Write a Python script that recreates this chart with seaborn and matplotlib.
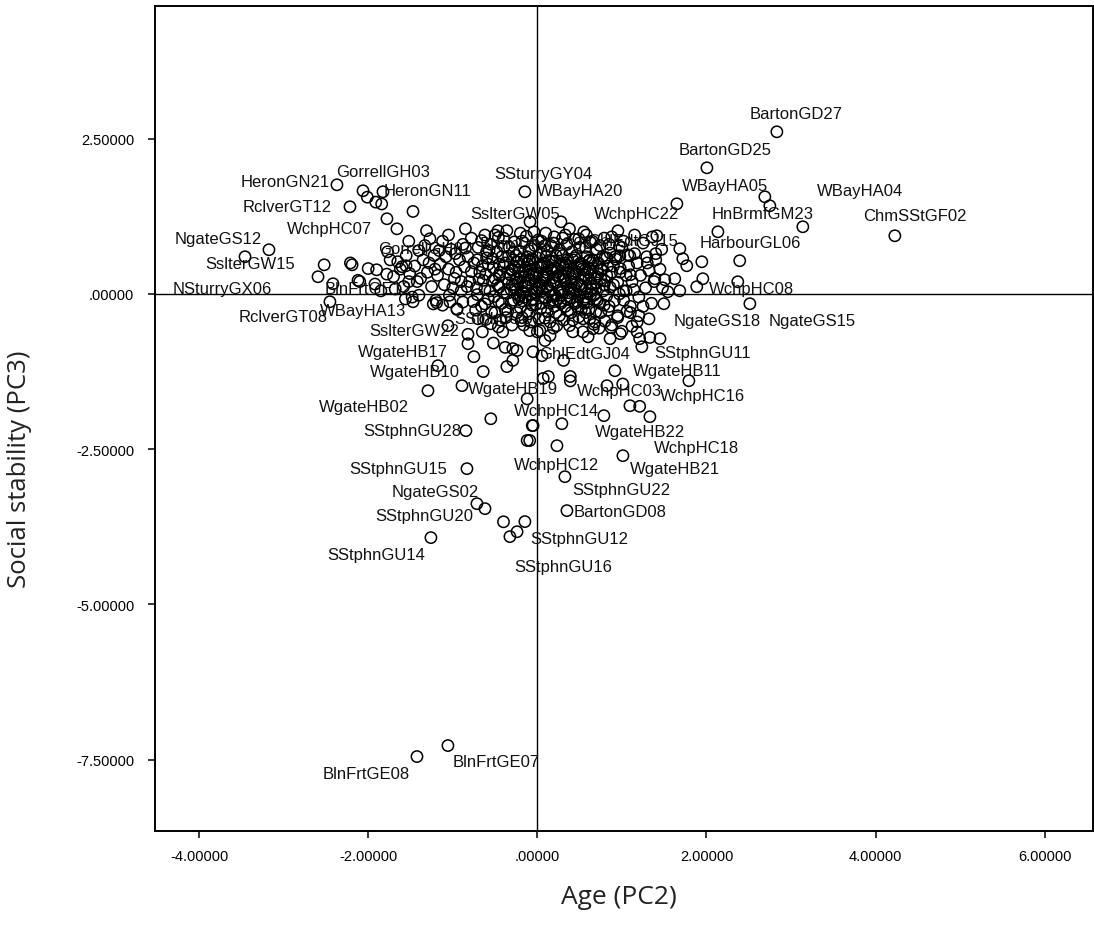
import matplotlib
matplotlib.use("Agg")
import matplotlib.pyplot as plt
import pandas as pd
import seaborn as sns

# Ward cases carrying a visible label: name, Age (PC2), Social stability (PC3)
case_names = [
    "BartonGD27", "BartonGD25", "WBayHA05", "HnBrmfGM23", "WBayHA04", "ChmSStGF02",
    "HarbourGL06", "WchpHC22", "WBayHA20", "SSturryGY04", "SslterGW05", "GhlEdtGJ15",
    "BrhmDnsGC03", "GorrellGH07", "HeronGN21", "GorrellGH03", "HeronGN11", "RclverGT12",
    "WchpHC07", "NgateGS12", "SslterGW15", "NSturryGX06", "BlnFrtGE12", "RclverGT08",
    "WBayHA13", "SslterGW22", "WgateHB17", "WgateHB10", "WgateHB02", "WgateHB19",
    "SStphnGU28", "SStphnGU15", "NgateGS02", "SStphnGU20", "SStphnGU14", "SStphnGU12",
    "SStphnGU16", "BartonGD08", "SStphnGU22", "WgateHB21", "WchpHC18", "WgateHB22",
    "WchpHC12", "WchpHC14", "WchpHC03", "WchpHC16", "WgateHB11", "SStphnGU11",
    "GhlEdtGJ04", "NgateGS18", "NgateGS15", "WchpHC08", "SStphnGU24", "BlnFrtGE08",
    "BlnFrtGE07",
]
case_pc2 = [
    2.832, 2.005, 1.650, 2.749, 3.139, 4.227,
    2.135, 0.953, 0.279, -0.147, -0.466, 0.823,
    -0.099, -1.553, -2.369, -2.061, -1.825, -2.215,
    -1.778, -3.456, -3.173, -2.593, -2.416, -2.452,
    -1.470, -1.057, -0.820, -1.175, -1.293, -0.891,
    -0.844, -0.832, -0.714, -0.619, -1.258, -0.147,
    -0.324, 0.350, 0.326, 1.012, 1.331, 1.095,
    0.232, 0.787, 0.823, 1.792, 0.917, 1.236,
    0.054, 1.496, 2.513, 1.957, -1.033, -1.423,
    -1.057,
]
case_pc3 = [
    2.613, 2.033, 1.453, 1.421, 1.083, 0.938,
    1.002, 1.018, 1.163, 1.647, 1.018, 0.584,
    0.535, 0.455, 1.759, 1.663, 1.647, 1.405,
    1.212, 0.600, 0.713, 0.278, 0.165, -0.125,
    -0.125, -0.511, -0.801, -1.155, -1.558, -1.477,
    -2.202, -2.814, -3.378, -3.458, -3.925, -3.667,
    -3.909, -3.490, -2.943, -2.605, -1.977, -1.800,
    -2.444, -1.960, -1.477, -1.397, -1.236, -0.850,
    -0.994, -0.157, -0.157, 0.246, -0.125, -7.452,
    -7.275,
]

# Remaining (unlabelled) ward cases, outer part of the cloud
other_pc2 = [
    # upper right
    2.690, 2.393, 2.370, 1.945, 1.685, 1.720, 1.767, 1.885, 1.684, 1.543,
    1.389, 1.507, 1.625, 1.413, 0.975, 1.093, 1.294, -0.087,
    # far left
    -2.01, -1.91, -2.52, -2.21, -2.19, -2.00, -1.90, -1.77, -1.84, -1.66,
    -1.74, -1.70, -1.62, -1.58, -1.85, -2.10, -1.55, -1.52, -2.12, -1.92,
    -1.78, -1.60, -1.51, -1.68, -1.56, -1.47,
    # mid left
    -1.31, -1.27, -0.85, -1.40, -1.35, -1.22, -1.15, -1.30, -1.18, -1.05,
    -1.42, -1.25, -1.10, -0.98, -0.92, -1.02, -0.88, -1.48, -1.20, -1.04,
    -0.90, -0.95, -1.12, -1.19, -1.23,
    # core, left half
    -0.78, -0.70, -0.62, -0.55, -0.48, -0.40, -0.33, -0.25, -0.18, -0.10, -0.05,
    -0.75, -0.68, -0.60, -0.52, -0.45, -0.38, -0.30, -0.22, -0.15, -0.08, -0.02,
    -0.80, -0.72, -0.64, -0.56, -0.47, -0.40, -0.34, -0.26, -0.20, -0.12, -0.04,
    -0.76, -0.66, -0.58, -0.50, -0.42, -0.35, -0.28, -0.20, -0.14, -0.06,
    -0.70, -0.55, -0.44, -0.30, -0.18, -0.08,
    -0.60, -0.42, -0.28, -0.12, -0.65, -0.50, -0.35, -0.18, -0.10, -0.25, -0.45,
    # core, right half
    0.05, 0.12, 0.20, 0.28, 0.35, 0.42, 0.50, 0.58, 0.65, 0.72,
    0.03, 0.10, 0.17, 0.24, 0.31, 0.38, 0.45, 0.52, 0.60, 0.68, 0.76,
    0.02, 0.08, 0.15, 0.22, 0.29, 0.36, 0.43, 0.50, 0.57, 0.64, 0.71, 0.78,
    0.05, 0.12, 0.19, 0.26, 0.33, 0.40, 0.47, 0.54, 0.61, 0.68, 0.75,
    0.10, 0.25, 0.40, 0.55, 0.18, 0.32, 0.46, 0.62, 0.07, 0.20, 0.35, 0.48,
    0.58, 0.70, 0.30, 0.15,
    # core, extra
    -0.28, -0.16, -0.03, 0.08, 0.22, 0.37, 0.53, 0.66, 0.80,
    -0.30, -0.17, -0.05, 0.06, 0.18, 0.32, 0.44, 0.55, 0.67, 0.79,
    -0.24, -0.10, 0.02, 0.15, 0.28, 0.42, 0.57, 0.73, 0.88, 1.00,
    -0.22, 0.00, 0.12, 0.27, 0.48, 0.63, 0.75, 0.90, 1.05, 1.18,
    0.04, 0.16, 0.30, 0.44, 0.58, 0.74, 0.88, 1.02, 1.15,
    -0.50, -0.36, -0.20, -0.04, 0.10, 0.38, 0.55,
    # right wing
    0.85, 0.92, 1.00, 1.08, 1.15, 1.22, 1.30, 1.38, 1.45,
    0.82, 0.90, 0.98, 1.05, 1.12, 1.20, 1.28, 1.35,
    0.85, 0.95, 1.02, 1.10, 1.18, 1.25, 1.32, 1.40, 1.48,
    # below the core
    0.09, 0.15, 0.07, 0.13, 0.39, 0.39, 0.29, -0.05, -0.09, 0.31,
    1.21, 1.33, 1.45, 1.18, 0.98, 0.86, 0.66, 0.54, 0.60, 0.42, 0.23, 0.00,
    1.01, 1.21,
    -0.95, -0.82, -0.75, -0.65, -0.52, -0.41, -0.38, -0.29, -0.24, -0.29,
    -0.36, -0.64, -0.55, -0.12, -0.06, -0.12, -0.05, 0.03, -0.09,
    # bottom group
    -0.40, -0.24,
]
other_pc3 = [
    # upper right
    1.566, 0.536, 0.197, 0.519, 0.729, 0.568, 0.455, 0.117, 0.052, 0.036,
    0.245, 0.229, 0.245, 0.938, 0.616, 0.616, 0.600, 1.163,
    # far left
    1.56, 1.48, 0.47, 0.50, 0.47, 0.41, 0.39, 0.68, 1.45, 1.05,
    0.55, 0.28, 0.40, 0.12, 0.05, 0.20, 0.62, 0.85, 0.22, 0.16,
    0.32, 0.44, 0.33, 0.08, -0.08, 1.33,
    # mid left
    1.02, 0.89, 1.05, 0.70, 0.55, 0.62, 0.48, 0.35, 0.30, 0.40,
    0.20, 0.12, 0.15, 0.25, 0.55, 0.72, 0.80, -0.05, -0.10, -0.02,
    0.05, -0.25, -0.18, -0.14, -0.16,
    # core, left half
    0.90, 0.75, 0.95, 0.80, 0.68, 0.90, 0.75, 0.62, 0.85, 0.70, 0.55,
    0.50, 0.35, 0.58, 0.42, 0.30, 0.50, 0.38, 0.45, 0.28, 0.40, 0.20,
    0.20, 0.10, 0.22, 0.05, 0.15, 0.02, 0.18, 0.08, -0.02, 0.12, 0.02,
    -0.12, -0.20, -0.08, -0.30, -0.15, -0.28, -0.10, -0.22, -0.05, -0.18,
    -0.40, -0.48, -0.42, -0.50, -0.38, -0.45,
    0.68, 0.60, 0.55, 0.60, 0.45, 0.25, 0.35, 0.18, 0.30, 0.25, 0.48,
    # core, right half
    0.85, 0.70, 0.92, 0.65, 0.80, 0.55, 0.75, 0.60, 0.85, 0.50,
    0.45, 0.35, 0.52, 0.40, 0.28, 0.45, 0.32, 0.48, 0.35, 0.25, 0.40,
    0.10, 0.22, 0.05, 0.18, -0.02, 0.12, 0.02, 0.15, -0.05, 0.08, -0.10, 0.05,
    -0.15, -0.28, -0.10, -0.35, -0.20, -0.30, -0.12, -0.40, -0.25, -0.45, -0.30,
    0.60, 0.30, 0.20, 0.25, 0.38, 0.50, 0.62, 0.55, 0.28, -0.20, -0.08, -0.22,
    0.10, 0.18, 0.08, 0.15,
    # core, extra
    0.68, 0.52, 0.78, 0.50, 0.62, 0.35, 0.40, 0.42, 0.58,
    0.15, 0.02, -0.08, 0.05, -0.02, 0.22, 0.10, -0.15, -0.02, -0.18,
    -0.30, -0.32, -0.40, -0.45, -0.15, -0.42, -0.30, -0.55, -0.50, -0.60,
    0.35, 0.33, 0.45, 0.48, 0.42, 0.30, 0.25, 0.45, 0.30, 0.50,
    0.65, 0.78, 0.90, 0.88, 0.95, 0.78, 0.92, 0.85, 0.95,
    0.95, 1.02, 0.98, 1.00, 0.98, 1.05, 1.00,
    # right wing
    0.80, 0.60, 0.75, 0.45, 0.65, 0.30, 0.50, 0.20, 0.40,
    0.30, 0.15, 0.35, 0.05, 0.20, -0.05, 0.10, -0.15,
    -0.20, -0.35, -0.10, -0.30, -0.45, -0.20, -0.40, 0.65, 0.10,
    # below the core
    -0.75, -0.67, -1.36, -1.33, -1.33, -1.40, -2.09, -2.12, -2.36, -1.07,
    -0.72, -0.70, -0.72, -0.61, -0.64, -0.72, -0.56, -0.61, -0.69, -0.61, -0.51, -0.61,
    -1.45, -1.81,
    -0.24, -0.65, -1.01, -0.61, -0.79, -0.61, -0.86, -0.88, -0.91, -1.07,
    -1.17, -1.25, -2.01, -1.69, -2.12, -2.36, -0.93, -0.59, -0.59,
    # bottom group
    -3.67, -3.83,
]

# Unlabelled cases packed into the dense centre of the cloud
dense_pc2 = [
    -0.66, -0.46, -0.27, -0.13, 0.01, 0.19, 0.33, 0.49, 0.63, 0.79,
    -0.85, -0.57, -0.39, -0.21, -0.07, 0.09, 0.26, 0.41, 0.57, 0.70, 0.86, 0.97,
    -0.82, -0.71, -0.53, -0.34, -0.19, -0.01, 0.14, 0.30, 0.44, 0.61, 0.77, 0.93, 1.07,
    -0.86, -0.58, -0.40, -0.27, -0.12, 0.05, 0.20, 0.34, 0.50, 0.64, 0.83, 0.98,
    -0.78, -0.61, -0.44, -0.32, -0.17, -0.05, 0.11, 0.23, 0.41, 0.56, 0.72, 0.88, 1.10,
    -0.90, -0.69, -0.53, -0.37, -0.23, -0.09, 0.04, 0.19, 0.33, 0.47, 0.61, 0.80, 0.95,
    -0.83, -0.62, -0.45, -0.31, -0.15, -0.01, 0.12, 0.26, 0.39, 0.53, 0.69, 0.86, 1.14,
    -0.71, -0.51, -0.36, -0.22, -0.08, 0.09, 0.21, 0.37, 0.49, 0.63, 0.82, 0.97,
    -0.88, -0.62, -0.46, -0.31, -0.18, -0.02, 0.14, 0.27, 0.44, 0.59, 0.74, 0.91,
    -0.73, -0.54, -0.38, -0.12, 0.04, 0.22, 0.36, 0.52, 0.69, 0.84, 1.06,
    -0.61, -0.37, -0.19, 0.09, 0.31, 0.49, 0.62, 0.80, 0.95,
    -0.46, -0.16, 0.19, 0.38, 0.67, 0.87, 1.12,
    # darkest patch
    -0.24, -0.09, 0.06, 0.21, 0.36, 0.51, 0.66,
    -0.30, -0.14, 0.01, 0.16, 0.31, 0.46, 0.61, 0.76,
    -0.20, -0.05, 0.10, 0.25, 0.40, 0.55, 0.70,
    -0.27, -0.11, 0.04, 0.19, 0.34, 0.49, 0.64, 0.79,
    -0.16, -0.01, 0.14, 0.29, 0.44, 0.59,
    -0.22, -0.06, 0.09, 0.24, 0.39, 0.54, 0.69,
    # left shoulder
    -1.65, -1.45, -1.33, -1.21, -1.08, -0.96, -1.38, -1.16, -1.00, -1.52,
    -1.28, -1.12, -0.97, -1.40, -1.05,
    # right shoulder
    1.25, 1.40, 1.10, 1.32, 1.47, 1.02, 1.20, 1.36,
]
dense_pc3 = [
    0.86, 0.91, 0.84, 0.93, 0.87, 0.82, 0.95, 0.89, 0.83, 0.90,
    0.74, 0.70, 0.76, 0.69, 0.73, 0.78, 0.71, 0.68, 0.75, 0.72, 0.66, 0.77,
    0.60, 0.55, 0.57, 0.61, 0.56, 0.59, 0.54, 0.62, 0.58, 0.53, 0.60, 0.56, 0.63,
    0.44, 0.48, 0.45, 0.43, 0.49, 0.46, 0.42, 0.47, 0.44, 0.50, 0.45, 0.41,
    0.36, 0.32, 0.35, 0.31, 0.37, 0.33, 0.30, 0.36, 0.34, 0.38, 0.32, 0.35, 0.31,
    0.20, 0.24, 0.21, 0.25, 0.19, 0.23, 0.20, 0.26, 0.22, 0.18, 0.24, 0.21, 0.19,
    0.12, 0.08, 0.11, 0.07, 0.13, 0.09, 0.12, 0.06, 0.10, 0.13, 0.08, 0.11, 0.07,
    -0.01, -0.04, 0.01, -0.03, 0.00, -0.05, -0.02, 0.02, -0.04, -0.01, -0.03, 0.00,
    -0.13, -0.16, -0.12, -0.15, -0.11, -0.17, -0.14, -0.12, -0.16, -0.13, -0.15, -0.11,
    -0.26, -0.29, -0.25, -0.28, -0.24, -0.30, -0.27, -0.25, -0.29, -0.26, -0.28,
    -0.41, -0.38, -0.43, -0.39, -0.42, -0.37, -0.40, -0.44, -0.38,
    -0.53, -0.50, -0.55, -0.51, -0.49, -0.54, -0.52,
    # darkest patch
    0.52, 0.55, 0.49, 0.53, 0.56, 0.50, 0.54,
    0.40, 0.37, 0.43, 0.39, 0.42, 0.36, 0.41, 0.38,
    0.27, 0.30, 0.26, 0.29, 0.25, 0.31, 0.28,
    0.15, 0.17, 0.14, 0.18, 0.16, 0.13, 0.17, 0.15,
    0.04, 0.02, 0.05, 0.03, 0.06, 0.01,
    -0.08, -0.10, -0.07, -0.09, -0.06, -0.11, -0.08,
    # left shoulder
    0.52, 0.45, 0.78, 0.40, 0.60, 0.35, 0.25, 0.70, 0.10, 0.20,
    0.50, 0.85, 0.65, -0.02, 0.95,
    # right shoulder
    0.82, 0.55, -0.20, 0.38, 0.72, 0.05, -0.35, 0.92,
]

x_ticks = [-4, -2, 0, 2, 4, 6]
x_tick_labels = ["-4.00000", "-2.00000", ".00000", "2.00000", "4.00000", "6.00000"]
y_ticks = [2.5, 0, -2.5, -5, -7.5]
y_tick_labels = ["2.50000", ".00000", "-2.50000", "-5.00000", "-7.50000"]

# Placement of each case label relative to its marker (pixels, right / down)
label_shift = {
    "BartonGD27": (19, -18), "BartonGD25": (18, -18), "WBayHA05": (48, -18),
    "HnBrmfGM23": (-7, 8), "WBayHA04": (57, -36), "ChmSStGF02": (20, -20),
    "HarbourGL06": (32, 11), "WchpHC22": (19, -17), "WBayHA20": (19, -31),
    "SSturryGY04": (19, -18), "SslterGW05": (17, -17), "GhlEdtGJ15": (26, -17),
    "BrhmDnsGC03": (7, -17), "GorrellGH07": (19, -17), "HeronGN21": (-52, -3),
    "GorrellGH03": (20, -19), "HeronGN11": (45, -1), "RclverGT12": (-63, 0),
    "WchpHC07": (-57, 10), "NgateGS12": (-27, -18), "SslterGW15": (-19, 14),
    "NSturryGX06": (-96, 12), "BlnFrtGE12": (35, 5), "RclverGT08": (-47, 15),
    "WBayHA13": (-50, 9), "SslterGW22": (-34, 5), "WgateHB17": (-65, 8),
    "WgateHB10": (-23, 6), "WgateHB02": (-64, 16), "WgateHB19": (51, 3),
    "SStphnGU28": (-54, 0), "SStphnGU15": (-69, 0), "NgateGS02": (-42, -12),
    "SStphnGU20": (-61, 7), "SStphnGU14": (-55, 17), "SStphnGU12": (54, 17),
    "SStphnGU16": (53, 30), "BartonGD08": (53, 1), "SStphnGU22": (56, 13),
    "WgateHB21": (52, 13), "WchpHC18": (47, 31), "WgateHB22": (10, 26),
    "WchpHC12": (0, 19), "WchpHC14": (-47, -5), "WchpHC03": (13, 5),
    "WchpHC16": (14, 15), "WgateHB11": (62, 0), "SStphnGU11": (61, 6),
    "GhlEdtGJ04": (43, -2), "NgateGS18": (53, 17), "NgateGS15": (62, 17),
    "WchpHC08": (49, 10), "SStphnGU24": (53, 17), "BlnFrtGE08": (-51, 17),
    "BlnFrtGE07": (48, 16),
}

sns.set_style("ticks")
plt.rcParams["font.family"] = ["Liberation Sans", "DejaVu Sans"]

wards = pd.DataFrame({
    "pc2": case_pc2 + other_pc2 + dense_pc2,
    "pc3": case_pc3 + other_pc3 + dense_pc3,
})

fig = plt.figure(figsize=(10.94, 9.29), dpi=100)
ax = fig.add_axes([0.1417, 0.1045, 0.8574, 0.8880])

ax.axhline(0, color="black", lw=1.0, zorder=1)
ax.axvline(0, color="black", lw=1.0, zorder=1)

sns.scatterplot(data=wards, x="pc2", y="pc3", ax=ax, marker="o", s=66,
                facecolors="none", edgecolor="black", linewidth=1.1, zorder=2)

for name, px, py in zip(case_names, case_pc2, case_pc3):
    dx, dy = label_shift[name]
    ax.annotate(name, (px, py), xytext=(dx, -dy), textcoords="offset pixels",
                ha="center", va="center", fontsize=12, color="#111111", zorder=3)

ax.set_xlim(-4.52, 6.57)
ax.set_ylim(-8.65, 4.64)
ax.set_xticks(x_ticks)
ax.set_xticklabels(x_tick_labels)
ax.set_yticks(y_ticks)
ax.set_yticklabels(y_tick_labels)
ax.tick_params(axis="both", direction="out", length=5, width=1.1,
               colors="black", labelsize=10.5)
ax.tick_params(axis="x", pad=8)
ax.tick_params(axis="y", pad=10)

for side in ax.spines.values():
    side.set_visible(True)
    side.set_color("black")
    side.set_linewidth(1.4)

ax.set_xlabel("Age (PC2)", family="Open Sans", fontsize=19, color="#222222")
ax.set_ylabel("Social stability (PC3)", family="Open Sans", fontsize=18.5, color="#222222")
ax.xaxis.set_label_coords(0.4947, -0.064)
ax.yaxis.set_label_coords(-0.131, 0.44)

fig.savefig("out.png", dpi=100)
